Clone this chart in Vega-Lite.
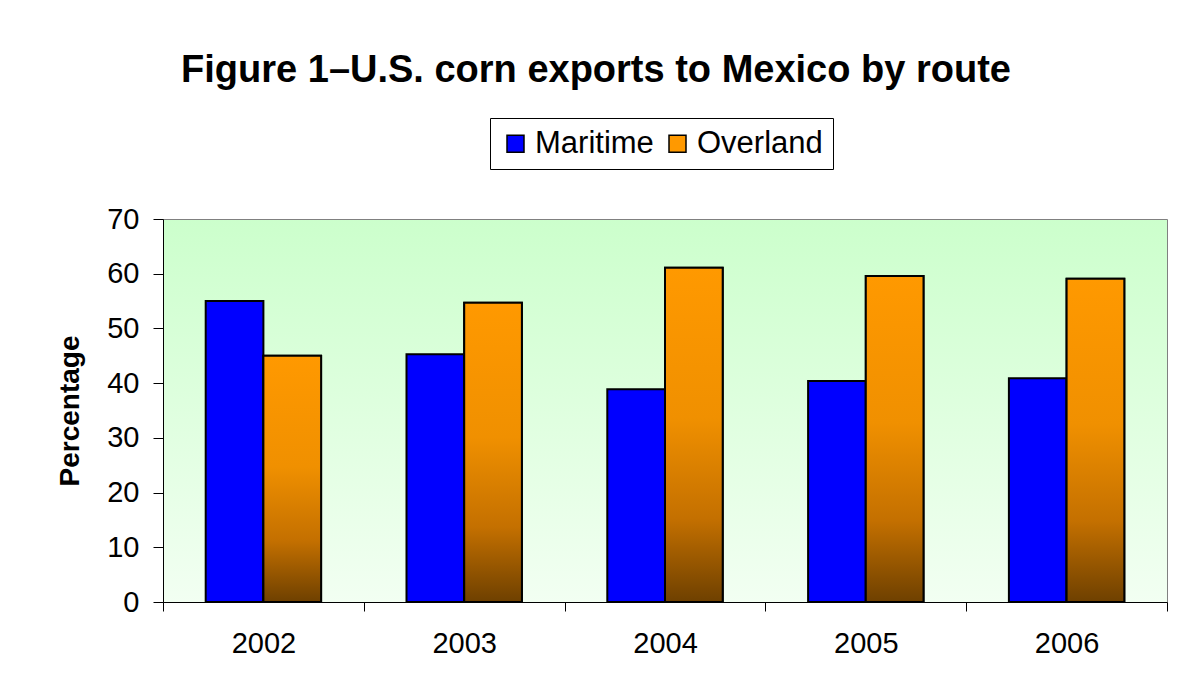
{
  "$schema": "https://vega.github.io/schema/vega-lite/v6.json",
  "width": 1004,
  "height": 383,
  "autosize": "none",
  "padding": {"left": 163, "top": 219, "right": 26, "bottom": 92},
  "background": "white",
  "title": {
    "text": "Figure 1–U.S. corn exports to Mexico by route",
    "font": "Liberation Sans",
    "fontSize": 38,
    "fontWeight": "bold",
    "color": "black",
    "anchor": "middle",
    "frame": "group",
    "dx": -69,
    "offset": 28
  },
  "data": {
    "values": [
      {"year": "2002", "route": "Maritime", "value": 55.0},
      {"year": "2002", "route": "Overland", "value": 45.0},
      {"year": "2003", "route": "Maritime", "value": 45.3},
      {"year": "2003", "route": "Overland", "value": 54.7},
      {"year": "2004", "route": "Maritime", "value": 38.9},
      {"year": "2004", "route": "Overland", "value": 61.1},
      {"year": "2005", "route": "Maritime", "value": 40.4},
      {"year": "2005", "route": "Overland", "value": 59.6},
      {"year": "2006", "route": "Maritime", "value": 40.9},
      {"year": "2006", "route": "Overland", "value": 59.1}
    ]
  },
  "encoding": {
    "x": {
      "field": "year",
      "type": "nominal",
      "scale": {"paddingInner": 0, "paddingOuter": 0},
      "axis": {
        "title": null,
        "labelAngle": 0,
        "labelFont": "Liberation Sans",
        "labelFontSize": 29,
        "labelColor": "black",
        "labelPadding": 18,
        "tickBand": "extent",
        "tickSize": 9,
        "tickColor": "black",
        "domainColor": "black",
        "domainWidth": 1
      }
    },
    "xOffset": {
      "field": "route",
      "type": "nominal",
      "scale": {"domain": ["Maritime", "Overland"], "paddingInner": 0, "paddingOuter": 0.74}
    },
    "y": {
      "field": "value",
      "type": "quantitative",
      "scale": {"domain": [0, 70], "nice": false},
      "axis": {
        "values": [0, 10, 20, 30, 40, 50, 60, 70],
        "title": "Percentage",
        "titleFont": "Liberation Sans",
        "titleFontSize": 28,
        "titleFontWeight": "bold",
        "titleColor": "black",
        "titlePadding": 22,
        "labelFont": "Liberation Sans",
        "labelFontSize": 29,
        "labelColor": "black",
        "labelPadding": 14,
        "tickSize": 10,
        "tickColor": "black",
        "domainColor": "black",
        "grid": false
      }
    }
  },
  "layer": [
    {
      "mark": {"type": "bar", "stroke": "black", "strokeWidth": 2},
      "encoding": {
        "color": {
          "field": "route",
          "type": "nominal",
          "scale": {"domain": ["Maritime", "Overland"], "range": ["#0000ff", "#ff9900"]},
          "legend": {
            "orient": "none",
            "legendX": 327,
            "legendY": -101,
            "direction": "horizontal",
            "columns": 2,
            "title": null,
            "labelFont": "Liberation Sans",
            "labelFontSize": 31,
            "labelColor": "black",
            "labelOffset": 4,
            "columnPadding": 8,
            "symbolType": "square",
            "symbolSize": 289,
            "symbolStrokeColor": "black",
            "symbolStrokeWidth": 1.5,
            "symbolOpacity": 1,
            "strokeColor": "black",
            "fillColor": "white",
            "padding": 10
          }
        }
      }
    },
    {
      "transform": [{"filter": "datum.route == 'Overland'"}],
      "mark": {
        "type": "bar",
        "stroke": "black",
        "strokeWidth": 2,
        "fill": {
          "gradient": "linear",
          "x1": 0, "y1": 0, "x2": 0, "y2": 1,
          "stops": [
            {"offset": 0, "color": "#ff9900"},
            {"offset": 0.45, "color": "#f09000"},
            {"offset": 0.75, "color": "#c47000"},
            {"offset": 1, "color": "#6e4000"}
          ]
        }
      }
    }
  ],
  "config": {
    "view": {
      "fill": {
        "gradient": "linear",
        "x1": 0, "y1": 0, "x2": 0, "y2": 1,
        "stops": [
          {"offset": 0, "color": "#ccffcc"},
          {"offset": 1, "color": "#f2fff2"}
        ]
      },
      "stroke": "#808080",
      "strokeWidth": 1
    }
  }
}
